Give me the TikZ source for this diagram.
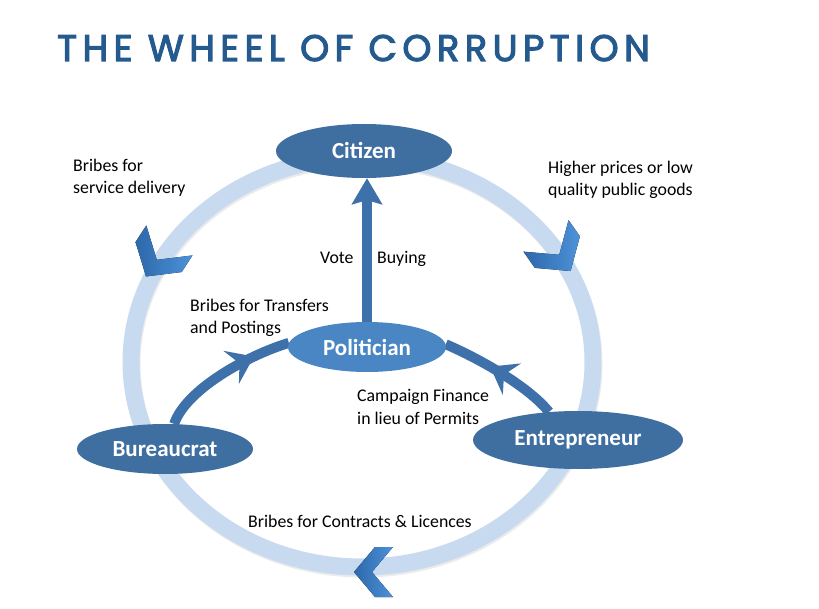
\documentclass[tikz,border=0pt]{standalone}
\usepackage{fontspec}
\setmainfont{Carlito}
\newfontfamily\titlefont{Poppins}[LetterSpace=14.5,FakeBold=3]
\usetikzlibrary{arrows.meta,positioning,calc,shapes.geometric,decorations.markings,backgrounds}
\definecolor{Ring}{HTML}{C8DAF0}
\definecolor{Deep}{HTML}{3F6FA1}
\definecolor{Mid}{HTML}{4A86C4}
\definecolor{Flow}{HTML}{3E71A9}
\definecolor{ChevA}{HTML}{2D68AA}
\definecolor{ChevB}{HTML}{4D92D9}
\definecolor{Title}{HTML}{245A8E}

\begin{document}
\begin{tikzpicture}[x=1pt,y=-1pt,
  actor/.style={ellipse,fill=Deep,text=white,font=\fontsize{23}{23}\selectfont\bfseries,minimum width=176pt,minimum height=50pt,inner sep=0pt},
  lbl/.style={font=\fontsize{17.8}{22}\selectfont,align=left,anchor=base west,inner sep=0pt},
  flow/.style={Flow,line width=10pt},
  midtip/.style={postaction={decorate},decoration={markings,mark=at position #1 with {\arrow{Stealth[length=25pt,width=36pt,inset=9pt]}}}},
  chev/.style={left color=ChevA,right color=ChevB,draw=none}]
\useasboundingbox (0,0) rectangle (819,609);
\node[font=\titlefont\fontsize{37}{37}\selectfont,text=Title,anchor=base west,inner sep=0pt](ttl) at (57,61) {THE WHEEL OF CORRUPTION};
\node[actor,minimum height=54pt](cit) at (364,151) {Citizen};
\node[actor,fill=Mid,minimum width=158pt](pol) at (367,347) {Politician};
\node[actor](bur) at (165,449) {Bureaucrat};
\node[actor,minimum width=210pt,minimum height=58pt](ent) at (578,440) {Entrepreneur};
\begin{scope}[on background layer]
\draw[black!8,line width=17pt] (363,364) ellipse [x radius=231,y radius=205];
\draw[Ring,line width=17pt] (362,362) ellipse [x radius=231,y radius=205];
\draw[flow,-{Stealth[length=26pt,width=30pt,inset=4pt]}](pol.north)--(pol.north |- cit.south);
\draw[flow,midtip=0.74](bur.70) .. controls +(12,-35) and +(-40,12) .. (pol.177);
\draw[flow,midtip=0.6](ent.136) .. controls +(-20,-25) and +(35,15) .. (pol.2);
\end{scope}
\foreach \x/\y/\r/\s in {158/258/237/1.1,558/253/-55/1.1,374/572/180/1}
  \fill[chev,shift={(\x,\y)},rotate=\r,scale=\s] (-19,-25)--(-1,-25)--(20,0)--(-1,25)--(-19,25)--(2,0)--cycle;
\node[lbl](l1) at (73,194) {Bribes for\\service delivery};
\node[lbl](l2) at (548,196) {Higher prices or low\\quality public goods};
\node[lbl](l3) at (320,264) {Vote};
\node[lbl](l4) at (377,264) {Buying};
\node[lbl](l5) at (190,334) {Bribes for Transfers\\and Postings};
\node[lbl](l6) at (357,424) {Campaign Finance\\in lieu of Permits};
\node[lbl](l7) at (248,527) {Bribes for Contracts \& Licences};
\end{tikzpicture}
\end{document}
